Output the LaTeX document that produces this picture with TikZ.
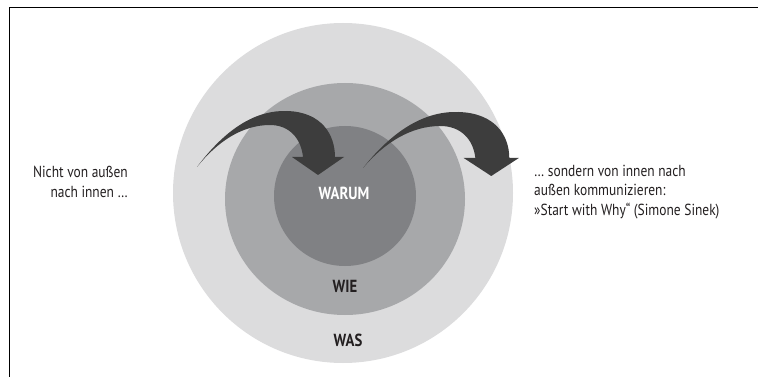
\documentclass[tikz,border=0pt]{standalone}
\usepackage{fontspec}
\setmainfont[FakeStretch=0.84]{PT Sans}
\usepackage{tikz}
\usetikzlibrary{positioning}

\definecolor{ringwas}{HTML}{DCDCDD}
\definecolor{ringwie}{HTML}{A7A8AA}
\definecolor{ringwarum}{HTML}{808184}
\definecolor{pfeil}{HTML}{3D3D3D}
\definecolor{schrift}{HTML}{231F20}

\tikzset{
  kreistext/.style={font=\bfseries\fontsize{17.5}{20}\selectfont, inner sep=0pt},
  seitentext/.style={font=\fontsize{16}{19.5}\selectfont, text=schrift, inner sep=0pt},
  bogenpfeil/.pic={
    \fill[pfeil] (0,0) .. controls (30,-40) and (60,-57) .. (90,-56)
      .. controls (125,-55) and (138,-32) .. (138,-10)
      -- (147,-10) -- (121,8) -- (95,-10) -- (106,-10)
      .. controls (104,-29) and (92,-42) .. (73,-42)
      .. controls (45,-42) and (20,-25) .. cycle;
  }
}

\begin{document}
\begin{tikzpicture}[x=1pt, y=-1pt]
        \useasboundingbox (0,0) rectangle (758,377);

        % Rahmen oben und links
        \draw[line width=1pt] (9,377) -- (9,8) -- (758,8);

        % die drei Kreise
        \fill[ringwas] (343,193) circle [radius=170];
        \fill[ringwie] (345,199) ellipse [x radius=120, y radius=116];
        \fill[ringwarum] (345,196) ellipse [x radius=71, y radius=70];

        % Pfeile
        \pic at (197,167) {bogenpfeil};
        \pic[xscale=1.06] at (363,168) {bogenpfeil};

        \node[kreistext, text=white] (warum) at (344,193) {WARUM};
        \node[kreistext, text=schrift] (wie) at (345,286) {WIE};
        \node[kreistext, text=schrift] (was) at (348,340) {WAS};

        \node[seitentext, align=right, anchor=east] (links) at (128,182)
          {Nicht von außen\\nach innen \dots};
        \node[seitentext, align=left, anchor=west] (rechts) at (534,192)
          {\dots{} sondern von innen nach\\außen kommunizieren:\\»Start with Why“ (Simone Sinek)};
\end{tikzpicture}
\end{document}
